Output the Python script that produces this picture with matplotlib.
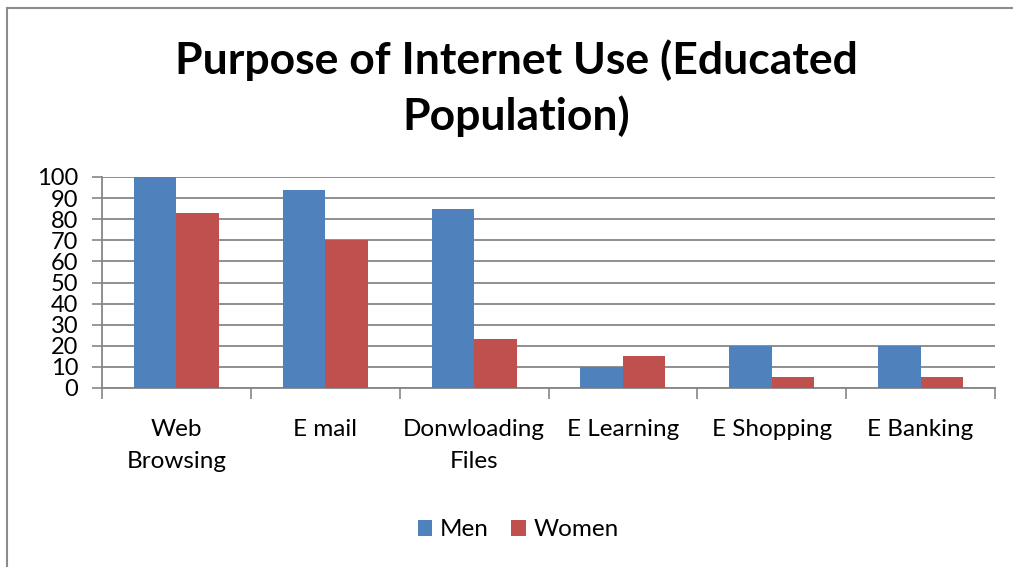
import numpy as np
import matplotlib
matplotlib.use('Agg')
import matplotlib.pyplot as plt
from matplotlib.lines import Line2D

plt.rcParams['font.family'] = ['Lato', 'DejaVu Sans']

categories = ['Web\nBrowsing', 'E mail', 'Donwloading\nFiles', 'E Learning', 'E Shopping', 'E Banking']
men = [100, 94, 85, 10, 20, 20]
women = [83, 70, 23, 15, 5, 5]
y_ticks = list(range(0, 101, 10))

blue = '#4f81bd'
red = '#c0504d'
grid_col = '#868686'

W, H = 1013, 567
fig = plt.figure(figsize=(W / 100, H / 100), dpi=100)
ax = fig.add_axes([102 / W, 1 - 388 / H, (995 - 102) / W, (388 - 177) / H])

x = np.arange(len(categories))
w = 1 / 3.5
ax.bar(x - w / 2, men, w, color=blue, label='Men', zorder=3)
ax.bar(x + w / 2, women, w, color=red, label='Women', zorder=3)

ax.set_xlim(-0.5, len(categories) - 0.5)
ax.set_ylim(0, 100)
ax.set_yticks(y_ticks)
ax.tick_params(axis='y', labelsize=17, length=7, width=1.2, color=grid_col, pad=10)
ax.grid(axis='y', color=grid_col, linewidth=1.3, zorder=0)

# category boundary ticks
ax.set_xticks(np.arange(-0.5, len(categories), 1))
ax.set_xticklabels([])
ax.tick_params(axis='x', length=8, width=1.2, color=grid_col)
for i, c in enumerate(categories):
    ax.text(i, -14.5, c, ha='center', va='top', fontsize=17.5, linespacing=1.65)

for s in ['top', 'right']:
    ax.spines[s].set_visible(False)
for s in ['left', 'bottom']:
    ax.spines[s].set_color(grid_col)
    ax.spines[s].set_linewidth(1.3)

fig.text(516 / W, 1 - 88 / H, 'Purpose of Internet Use (Educated\nPopulation)',
         ha='center', va='center', fontsize=32, fontweight='bold', linespacing=1.42)

fig.legend(loc='center', bbox_to_anchor=(518 / W, 1 - 530 / H), ncol=2,
           frameon=False, fontsize=17.5, handlelength=0.6, handleheight=0.6,
           handletextpad=0.3, columnspacing=0.95)

# outer chart border (only top and left are inside the picture)
fig.add_artist(Line2D([7 / W, 7 / W], [0, 1 - 8 / H], transform=fig.transFigure,
                      color='#8c8c8c', linewidth=1.5))
fig.add_artist(Line2D([7 / W, 1], [1 - 8 / H, 1 - 8 / H], transform=fig.transFigure,
                      color='#8c8c8c', linewidth=1.5))

fig.savefig('out.png', dpi=100)
